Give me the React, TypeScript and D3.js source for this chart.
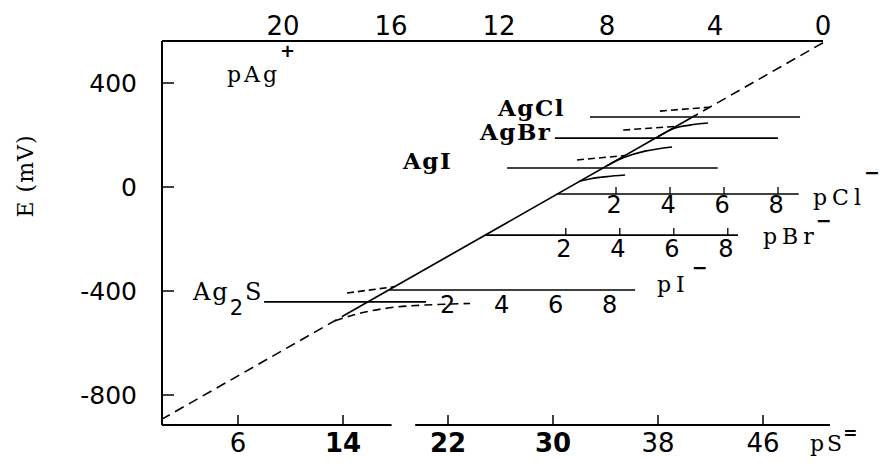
import React from 'react';
import * as d3 from 'd3';

// ---------- data ----------
// top axis: pAg+
const pAgTicks = [20, 16, 12, 8, 4, 0];
// left axis: E (mV)
const eTicks = [400, 0, -400, -800];
// bottom axis: pS=
const pSTicks = [6, 14, 22, 30, 38, 46];
const pSBoldTicks = [14, 22, 30];
const pSAxisPieces = [[0.2, 17.7], [19.5, 51.1]];

// silver electrode line, points are [pAg, E(mV)]
const mainDashedTop = [[0, 555], [4.8, 271]];
const mainSolid = [[4.8, 271], [17.5, -480]];
const mainDashedBottom = [[17.5, -480], [24.45, -891]];

// precipitates
const saltNames = ['AgCl', 'AgBr', 'AgI', 'Ag2S'];
const saltLevelE = [269, 188, 73, -442];
const saltLevelFrom = [8.63, 9.93, 11.7, 20.7];
const saltLevelTo = [0.85, 1.67, 3.9, 14.7];
const saltUpper = [
  [[6.04, 292], [4.2, 307]],
  [[7.4, 219], [5.44, 233]],
  [[9.11, 104], [7.33, 121]],
  [[17.63, -408], [15.85, -383]],
];
const saltLower = [
  [[6.1, 194], [5.48, 227], [4.93, 238], [4.26, 246]],
  [[8.0, 82], [7.33, 115], [6.59, 138], [5.59, 154]],
  [[9.0, 23], [8.6, 32], [8.0, 40], [7.33, 46]],
  [[18.07, -514], [17.52, -496], [16.78, -477], [15.85, -462], [14.74, -454], [13.07, -448]],
];

// halide scales pX
const pXNames = ['pCl', 'pBr', 'pI'];
const pXAxisE = [-27, -185, -396];
const pXAxisFrom = [9.84, 12.5, 16.07];
const pXAxisTo = [0.9, 3.15, 6.96];
const pXpKsp = [9.74, 11.6, 15.9];
const pXTicks = [2, 4, 6, 8];

// ---------- layout / styles ----------
const W = 884;
const H = 463;
const LEFT = 162;
const TOP = 41;
const BOTTOM = 425;
const NUM_FONT = '"DejaVu Sans", sans-serif';
const TT_FONT = '"DejaVu Serif", serif';
const saltLabelX = [498, 480, 403, 193];
const saltLabelDy = [-1, 2, 1, -2];
const saltLowerDashed = [false, false, false, true];
const pXHasTicks = [true, true, false];
const pXLabelPos = [[813, 205], [763, 244], [657, 292]];
const pXSupDx = [-2, -3, 2];
const pXSupDy = [-26, -17, -18];
const pXNumDy = [19, 22, 23];

export default function App() {
  const xP = d3.scaleLinear().domain([0, 20]).range([823, 283]);
  const yE = d3.scaleLinear().domain([-800, 400]).range([395, 83]);
  const xS = d3.scaleLinear().domain([6, 46]).range([238, 763]);

  const straight = d3
    .line<number[]>()
    .x((d) => xP(d[0]))
    .y((d) => yE(d[1]));
  const smooth = d3
    .line<number[]>()
    .x((d) => xP(d[0]))
    .y((d) => yE(d[1]))
    .curve(d3.curveCatmullRom.alpha(0.5));

  const ink = '#000';

  return (
    <svg
      width={W}
      height={H}
      viewBox={`0 0 ${W} ${H}`}
      style={{ position: 'absolute', left: 0, top: 0, background: '#fff' }}
    >
      <rect x={0} y={0} width={W} height={H} fill="#fff" />

      {/* frame */}
      <line x1={LEFT} y1={TOP} x2={LEFT} y2={BOTTOM} stroke={ink} strokeWidth={2} />
      <line x1={LEFT} y1={TOP} x2={xP(0)} y2={TOP} stroke={ink} strokeWidth={2} />
      {pSAxisPieces.map((p, i) => (
        <line key={'bx' + i} x1={xS(p[0])} y1={BOTTOM} x2={xS(p[1])} y2={BOTTOM} stroke={ink} strokeWidth={2} />
      ))}

      {/* left ticks & labels */}
      {eTicks.map((v) => (
        <g key={'e' + v}>
          <line x1={LEFT} y1={yE(v)} x2={LEFT + 12} y2={yE(v)} stroke={ink} strokeWidth={1.5} />
          <text
            x={137}
            y={yE(v)}
            textAnchor="end"
            dominantBaseline="central"
            fontFamily={NUM_FONT}
            fontSize={25}
            fill={ink}
          >
            {v < 0 ? '-' + Math.abs(v) : String(v)}
          </text>
        </g>
      ))}
      <text
        transform="translate(25,176) rotate(-90)"
        textAnchor="middle"
        dominantBaseline="central"
        fontFamily={TT_FONT}
        fontSize={22}
        letterSpacing={1}
        fill={ink}
      >
        E (mV)
      </text>

      {/* top labels pAg+ */}
      {pAgTicks.map((v) => (
        <text key={'t' + v} x={xP(v)} y={35} textAnchor="middle" fontFamily={NUM_FONT} fontSize={26} fill={ink}>
          {v}
        </text>
      ))}
      <text x={227} y={82} fontFamily={TT_FONT} fontSize={22} letterSpacing={3} fill={ink}>
        pAg
        <tspan fontFamily={NUM_FONT} fontWeight="bold" fontSize={18} dx={0} dy={-25}>
          +
        </tspan>
      </text>

      {/* bottom ticks & labels pS= */}
      {pSTicks.map((v) => (
        <g key={'s' + v}>
          <line x1={xS(v)} y1={BOTTOM} x2={xS(v)} y2={BOTTOM - 10} stroke={ink} strokeWidth={1.5} />
          <text
            x={xS(v)}
            y={452}
            textAnchor="middle"
            fontFamily={NUM_FONT}
            fontSize={26}
            fontWeight={pSBoldTicks.includes(v) ? 'bold' : 'normal'}
            fill={ink}
          >
            {v}
          </text>
        </g>
      ))}
      <text x={810} y={451} fontFamily={TT_FONT} fontSize={22} letterSpacing={3} fill={ink}>
        pS
        <tspan fontFamily={NUM_FONT} fontWeight="bold" fontSize={17} dx={-2} dy={-12}>
          =
        </tspan>
      </text>

      {/* main silver electrode line */}
      <path d={straight(mainDashedTop) || ''} fill="none" stroke={ink} strokeWidth={1.6} strokeDasharray="10 6" />
      <path d={straight(mainSolid) || ''} fill="none" stroke={ink} strokeWidth={1.7} />
      <path d={straight(mainDashedBottom) || ''} fill="none" stroke={ink} strokeWidth={1.6} strokeDasharray="10 6" />

      {/* precipitates */}
      {saltNames.map((name, i) => {
        const yl = yE(saltLevelE[i]);
        return (
          <g key={name}>
            <line
              x1={xP(saltLevelFrom[i])}
              y1={yl}
              x2={xP(saltLevelTo[i])}
              y2={yl}
              stroke={ink}
              strokeWidth={1.6}
            />
            <path d={straight(saltUpper[i]) || ''} fill="none" stroke={ink} strokeWidth={1.6} strokeDasharray="7 4" />
            <path
              d={smooth(saltLower[i]) || ''}
              fill="none"
              stroke={ink}
              strokeWidth={1.6}
              strokeDasharray={saltLowerDashed[i] ? '8 5' : undefined}
            />
            {name === 'Ag2S' ? (
              <text x={saltLabelX[i]} y={yl + saltLabelDy[i]} fontFamily={TT_FONT} fontSize={24} letterSpacing={2} fill={ink}>
                Ag
                <tspan fontFamily={NUM_FONT} fontSize={21} dy={15}>
                  2
                </tspan>
                <tspan dy={-15}>S</tspan>
              </text>
            ) : (
              <text
                x={saltLabelX[i]}
                y={yl + saltLabelDy[i]}
                fontFamily={TT_FONT}
                fontSize={23}
                fontWeight="bold"
                letterSpacing={1.5}
                fill={ink}
              >
                {name}
              </text>
            )}
          </g>
        );
      })}

      {/* halide scales */}
      {pXNames.map((name, i) => {
        const ya = yE(pXAxisE[i]);
        return (
          <g key={name}>
            <line x1={xP(pXAxisFrom[i])} y1={ya} x2={xP(pXAxisTo[i])} y2={ya} stroke={ink} strokeWidth={1.6} />
            {pXTicks.map((t) => {
              const xt = xP(pXpKsp[i] - t);
              return (
                <g key={name + t}>
                  {pXHasTicks[i] && (
                    <line x1={xt + 2} y1={ya - 7} x2={xt + 2} y2={ya} stroke={ink} strokeWidth={1.3} />
                  )}
                  <text
                    x={xt}
                    y={ya + pXNumDy[i]}
                    textAnchor="middle"
                    fontFamily={NUM_FONT}
                    fontSize={24}
                    fill={ink}
                  >
                    {t}
                  </text>
                </g>
              );
            })}
            <text
              x={pXLabelPos[i][0]}
              y={pXLabelPos[i][1]}
              fontFamily={TT_FONT}
              fontSize={22}
              letterSpacing={5}
              fill={ink}
            >
              {name}
              <tspan fontFamily={NUM_FONT} fontWeight="bold" fontSize={19} dx={pXSupDx[i]} dy={pXSupDy[i]}>
                −
              </tspan>
            </text>
          </g>
        );
      })}
    </svg>
  );
}
